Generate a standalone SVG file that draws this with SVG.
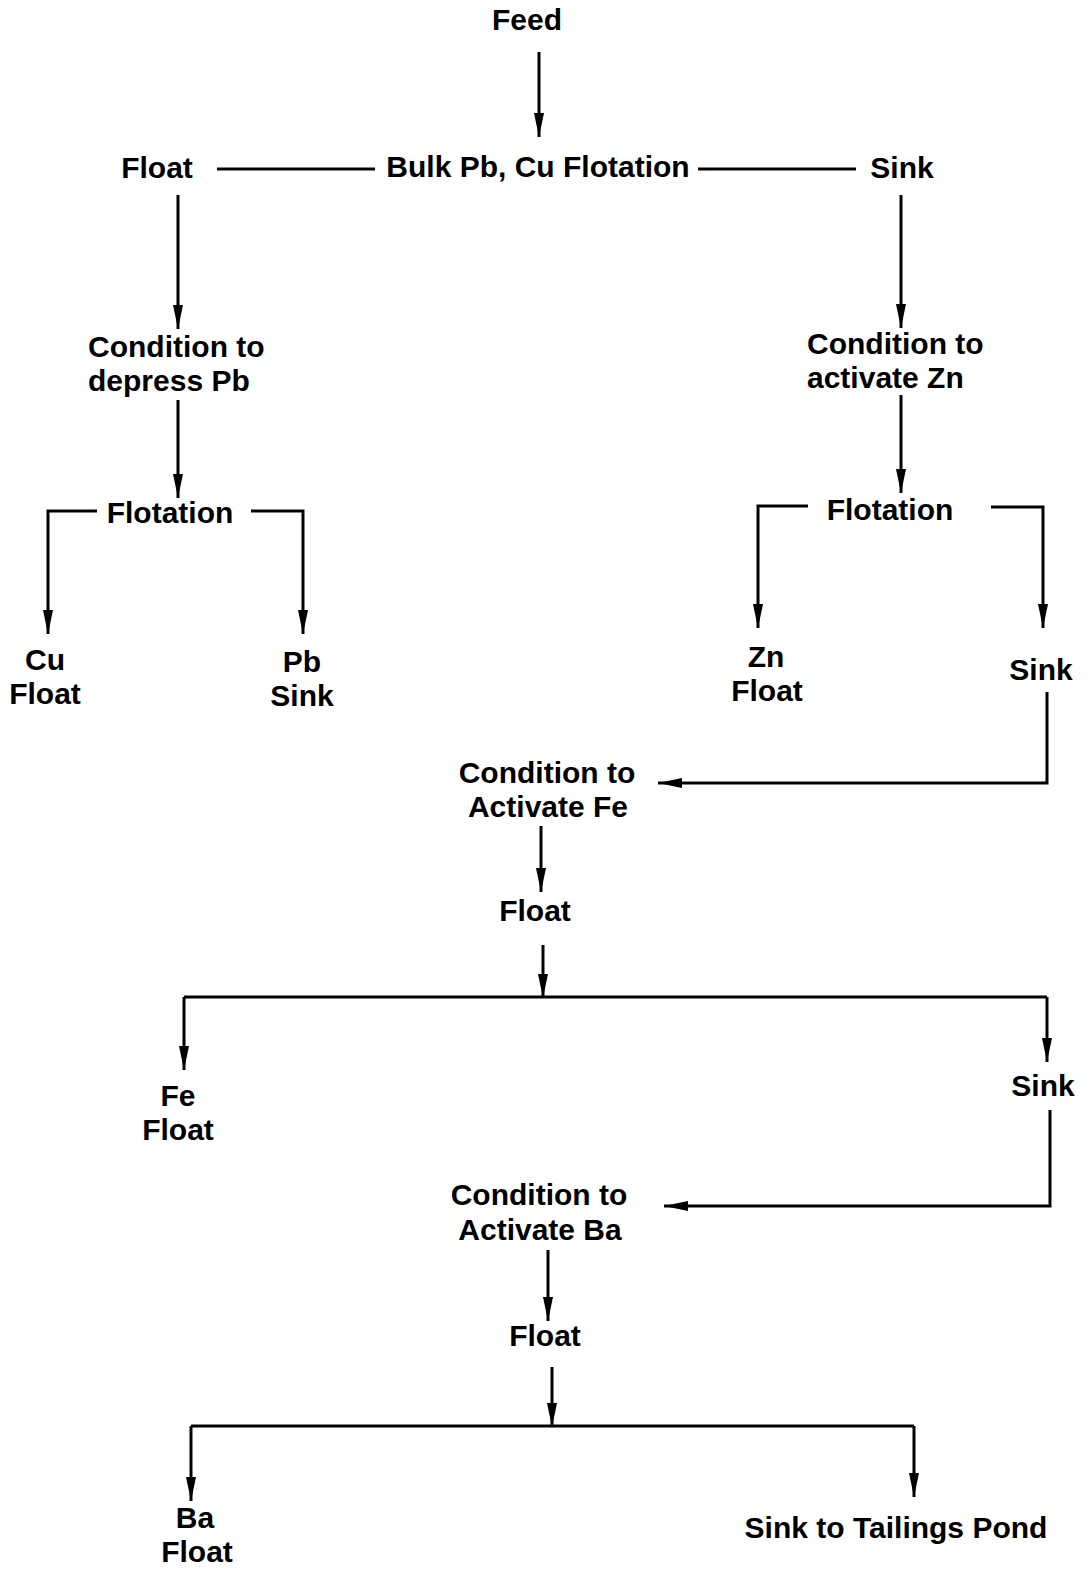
<svg xmlns="http://www.w3.org/2000/svg" width="1089" height="1581" viewBox="0 0 1089 1581">
<style>
text{font-family:"Liberation Sans",Arial,sans-serif;font-weight:bold;font-size:30px;fill:#000}
.c{text-anchor:middle}
.l{fill:none;stroke:#000;stroke-width:3}
</style>
<defs>
<marker id="ah" viewBox="0 0 24 10" refX="24" refY="5" markerWidth="24" markerHeight="10" markerUnits="userSpaceOnUse" orient="auto">
<path d="M0,0 L24,5 L0,10 z" fill="#000"/>
</marker>
</defs>
<rect width="1089" height="1581" fill="#fff"/>
<g id="connectors">
<path class="l" d="M539,52 V137" marker-end="url(#ah)"/>
<path class="l" d="M217,169 H375"/>
<path class="l" d="M698,169 H856"/>
<path class="l" d="M178,195 V329" marker-end="url(#ah)"/>
<path class="l" d="M178,400 V498" marker-end="url(#ah)"/>
<path class="l" d="M97,511 H48 V634" marker-end="url(#ah)"/>
<path class="l" d="M251,511 H303 V634" marker-end="url(#ah)"/>
<path class="l" d="M901,195 V328" marker-end="url(#ah)"/>
<path class="l" d="M901,395 V493" marker-end="url(#ah)"/>
<path class="l" d="M808,506 H758 V628" marker-end="url(#ah)"/>
<path class="l" d="M991,507 H1043 V628" marker-end="url(#ah)"/>
<path class="l" d="M1047,692 V783 H658" marker-end="url(#ah)"/>
<path class="l" d="M541,826 V892" marker-end="url(#ah)"/>
<path class="l" d="M543,945 V998" marker-end="url(#ah)"/>
<path class="l" d="M184,997 H1047"/>
<path class="l" d="M184,997 V1070" marker-end="url(#ah)"/>
<path class="l" d="M1047,997 V1062" marker-end="url(#ah)"/>
<path class="l" d="M1050,1110 V1206 H664" marker-end="url(#ah)"/>
<path class="l" d="M548,1250 V1321" marker-end="url(#ah)"/>
<path class="l" d="M552,1367 V1427" marker-end="url(#ah)"/>
<path class="l" d="M191,1426 H914"/>
<path class="l" d="M191,1426 V1501" marker-end="url(#ah)"/>
<path class="l" d="M914,1426 V1497" marker-end="url(#ah)"/>
</g>
<g id="feed"><text class="c" x="527" y="30">Feed</text></g>
<g id="float1"><text class="c" x="157" y="178">Float</text></g>
<g id="bulk"><text class="c" x="538" y="177">Bulk Pb, Cu Flotation</text></g>
<g id="sink1"><text class="c" x="902" y="178">Sink</text></g>
<g id="cond-pb"><text x="88" y="357">Condition to</text><text x="88" y="391">depress Pb</text></g>
<g id="flot-left"><text class="c" x="170" y="523">Flotation</text></g>
<g id="cu-float"><text class="c" x="45" y="670">Cu</text><text class="c" x="45" y="704">Float</text></g>
<g id="pb-sink"><text class="c" x="302" y="672">Pb</text><text class="c" x="302" y="706">Sink</text></g>
<g id="cond-zn"><text x="807" y="354">Condition to</text><text x="807" y="388">activate Zn</text></g>
<g id="flot-right"><text class="c" x="890" y="520">Flotation</text></g>
<g id="zn-float"><text class="c" x="766" y="667">Zn</text><text class="c" x="767" y="701">Float</text></g>
<g id="sink2"><text class="c" x="1041" y="680">Sink</text></g>
<g id="cond-fe"><text class="c" x="547" y="783">Condition to</text><text class="c" x="548" y="817">Activate Fe</text></g>
<g id="float-fe"><text class="c" x="535" y="921">Float</text></g>
<g id="fe-float"><text class="c" x="178" y="1106">Fe</text><text class="c" x="178" y="1140">Float</text></g>
<g id="sink3"><text class="c" x="1043" y="1096">Sink</text></g>
<g id="cond-ba"><text class="c" x="539" y="1205">Condition to</text><text class="c" x="540" y="1240">Activate Ba</text></g>
<g id="float-ba"><text class="c" x="545" y="1346">Float</text></g>
<g id="ba-float"><text class="c" x="195" y="1528">Ba</text><text class="c" x="197" y="1562">Float</text></g>
<g id="tailings"><text class="c" x="896" y="1538">Sink to Tailings Pond</text></g>
</svg>
